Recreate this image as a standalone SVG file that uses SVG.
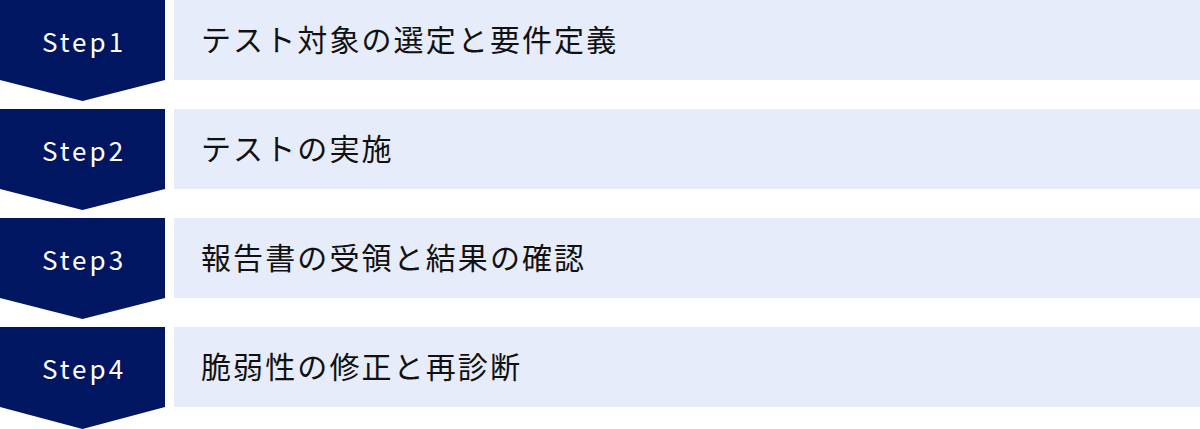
<svg xmlns="http://www.w3.org/2000/svg" width="1200" height="429" viewBox="0 0 1200 429">
<style>
.chev{fill:#001661}
.box{fill:#e6ecf9}
.step{font-family:"Noto Sans CJK JP",sans-serif;font-size:26px;fill:#ffffff;text-anchor:middle;letter-spacing:3px}
.lbl{font-family:"Noto Sans CJK JP",sans-serif;font-size:30px;fill:#111111;letter-spacing:2.1px}
</style>
<rect width="1200" height="429" fill="#ffffff"/>
<g id="step1">
<polygon class="chev" points="0,0 165,0 165,80 82.5,101 0,80"/>
<rect class="box" x="174" y="0" width="1026" height="80"/>
<text class="step" x="84" y="52">Step1</text>
<text class="lbl" x="201" y="51">テスト対象の選定と要件定義</text>
</g>
<g id="step2">
<polygon class="chev" points="0,109 165,109 165,189 82.5,210 0,189"/>
<rect class="box" x="174" y="109" width="1026" height="80"/>
<text class="step" x="84" y="161">Step2</text>
<text class="lbl" x="201" y="160">テストの実施</text>
</g>
<g id="step3">
<polygon class="chev" points="0,218 165,218 165,298 82.5,319 0,298"/>
<rect class="box" x="174" y="218" width="1026" height="80"/>
<text class="step" x="84" y="270">Step3</text>
<text class="lbl" x="201" y="269">報告書の受領と結果の確認</text>
</g>
<g id="step4">
<polygon class="chev" points="0,327 165,327 165,407 82.5,429 0,407"/>
<rect class="box" x="174" y="327" width="1026" height="80"/>
<text class="step" x="84" y="379">Step4</text>
<text class="lbl" x="201" y="378">脆弱性の修正と再診断</text>
</g>
<g id="connectors"></g>
</svg>
